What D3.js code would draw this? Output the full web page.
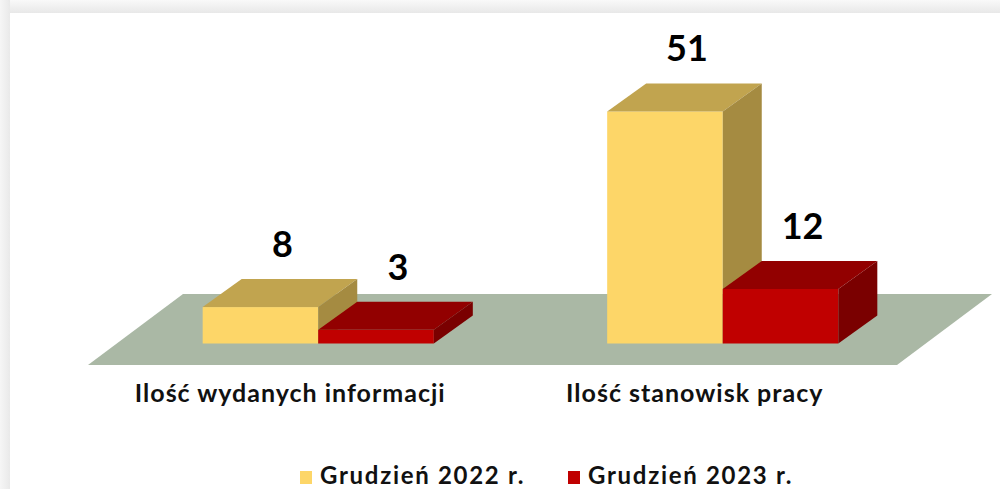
<!DOCTYPE html>
<html>
<head>
<meta charset="utf-8">
<script src="https://cdn.jsdelivr.net/npm/d3@7"></script>
<style>
  body { margin: 0; background: #fff; }
  svg { display: block; font-family: Lato, "Open Sans", sans-serif; }
</style>
</head>
<body>
<svg id="chart" width="1000" height="489"></svg>
<script>
// Chart data
const categories = ["Ilość wydanych informacji", "Ilość stanowisk pracy"];
const seriesNames = ["Grudzień 2022 r.", "Grudzień 2023 r."];
const values2022 = [8, 51];
const values2023 = [3, 12];

const width = 1000, height = 489;
const svg = d3.select("#chart");

// Frame: soft gray shadow on top and left
const defs = svg.append("defs");
const gTop = defs.append("linearGradient").attr("id", "gTop")
    .attr("x1", 0).attr("y1", 0).attr("x2", 0).attr("y2", 1);
gTop.append("stop").attr("offset", "0%").attr("stop-color", "#f9f9f9");
gTop.append("stop").attr("offset", "100%").attr("stop-color", "#e8e8e8");
const gLeft = defs.append("linearGradient").attr("id", "gLeft")
    .attr("x1", 0).attr("y1", 0).attr("x2", 1).attr("y2", 0);
gLeft.append("stop").attr("offset", "0%").attr("stop-color", "#f6f6f6");
gLeft.append("stop").attr("offset", "100%").attr("stop-color", "#e9e9e9");

svg.append("rect").attr("width", width).attr("height", height).attr("fill", "#fff");
svg.append("rect").attr("x", 0).attr("y", 0).attr("width", width).attr("height", 13).attr("fill", "url(#gTop)");
svg.append("rect").attr("x", 0).attr("y", 0).attr("width", 10).attr("height", height).attr("fill", "url(#gLeft)");
svg.append("rect").attr("x", 10).attr("y", 13).attr("width", width - 10).attr("height", height - 13).attr("fill", "#fff");

// 3D geometry
const floorFront = 365;
const floorDepth = { dx: 95, dy: -71 };
const barDepth = { dx: 39, dy: -28 };
const barShift = { dx: (floorDepth.dx - barDepth.dx) / 2, dy: (floorDepth.dy - barDepth.dy) / 2 };
const baseY = floorFront + barShift.dy;

// Scales
const x = d3.scaleBand().domain(categories).range([88, 897]).padding(0);
const xSeries = d3.scaleBand().domain(seriesNames).range([0, x.bandwidth()])
    .paddingInner(0).paddingOuter(0.75);
const y = d3.scaleLinear().domain([0, 60]).range([baseY, baseY - 273]);

const colors = {
    [seriesNames[0]]: { front: "#fdd668", top: "#c1a44f", side: "#a58b41" },
    [seriesNames[1]]: { front: "#c00000", top: "#920000", side: "#7a0000" }
};

// Floor
const [fx0, fx1] = x.range();
svg.append("path")
    .attr("d", `M${fx0},${floorFront} L${fx1},${floorFront} L${fx1 + floorDepth.dx},${floorFront + floorDepth.dy} L${fx0 + floorDepth.dx},${floorFront + floorDepth.dy} Z`)
    .attr("fill", "#aab8a5");

// Flatten data into bar records
const bars = [];
categories.forEach((c, i) => {
    bars.push({ category: c, series: seriesNames[0], value: values2022[i] });
    bars.push({ category: c, series: seriesNames[1], value: values2023[i] });
});

const barG = svg.append("g").selectAll("g")
    .data(bars)
    .enter()
    .append("g");

barG.each(function (d) {
    const g = d3.select(this);
    const x0 = x(d.category) + xSeries(d.series) + barShift.dx;
    const x1 = x0 + xSeries.bandwidth();
    const yTop = y(d.value);
    const yBot = y(0);
    const c = colors[d.series];
    const dx = barDepth.dx, dy = barDepth.dy;

    g.append("rect")
        .attr("x", x0).attr("y", yTop)
        .attr("width", x1 - x0).attr("height", yBot - yTop)
        .attr("fill", c.front);
    g.append("path")
        .attr("d", `M${x0},${yTop} L${x0 + dx},${yTop + dy} L${x1 + dx},${yTop + dy} L${x1},${yTop} Z`)
        .attr("fill", c.top);
    g.append("path")
        .attr("d", `M${x1},${yTop} L${x1 + dx},${yTop + dy} L${x1 + dx},${yBot + dy} L${x1},${yBot} Z`)
        .attr("fill", c.side);

    g.append("text")
        .attr("x", (x0 + x1) / 2 + 22)
        .attr("y", yTop + dy - 22)
        .attr("text-anchor", "middle")
        .attr("font-size", 36)
        .attr("font-weight", "bold")
        .attr("fill", "#000")
        .text(d.value);
});

// Category labels
svg.append("g").selectAll("text")
    .data(categories)
    .enter()
    .append("text")
    .attr("x", d => x(d) + x.bandwidth() / 2)
    .attr("y", 402)
    .attr("text-anchor", "middle")
    .attr("font-size", 25)
    .attr("letter-spacing", 1)
    .attr("font-weight", "bold")
    .attr("fill", "#111")
    .text(d => d);

// Legend
const legend = svg.append("g").attr("transform", "translate(300, 469)");
const legendX = [0, 268];
seriesNames.forEach((s, i) => {
    const item = legend.append("g").attr("transform", `translate(${legendX[i]}, 0)`);
    item.append("rect")
        .attr("x", 0).attr("y", 2)
        .attr("width", 12).attr("height", 13)
        .attr("fill", colors[s].front);
    item.append("text")
        .attr("x", 20).attr("y", 15)
        .attr("font-size", 24)
        .attr("letter-spacing", 1.7)
        .attr("font-weight", "bold")
        .attr("fill", "#111")
        .text(s);
});
</script>
</body>
</html>
